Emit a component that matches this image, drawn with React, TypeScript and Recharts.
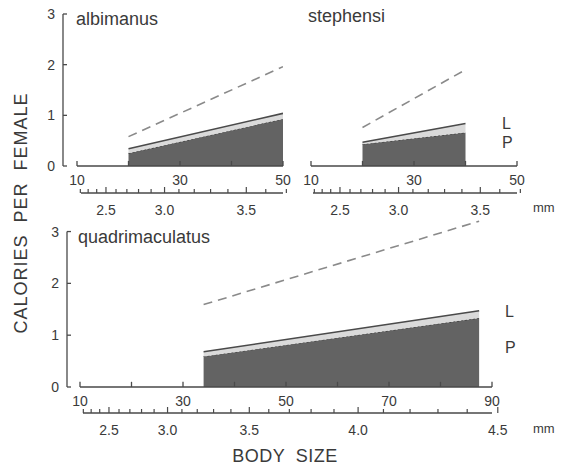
import { ComposedChart, Area, Line, XAxis, YAxis, ReferenceLine } from 'recharts';

// ends of the fitted lines, body size on the upper (weight) scale
const albimanusSize = [20, 50];
const albimanusProtein = [0.25, 0.93];
const albimanusTotal = [0.34, 1.04];
const albimanusDashed = [0.58, 1.96];

const stephensiSize = [20, 40];
const stephensiProtein = [0.43, 0.66];
const stephensiTotal = [0.47, 0.84];
const stephensiDashed = [0.76, 1.9];

const quadriSize = [34, 87.5];
const quadriProtein = [0.59, 1.33];
const quadriTotal = [0.68, 1.47];
const quadriDashed = [1.59, 3.2];

const yTicks = [0, 1, 2, 3];
const sizeTicksTop = [10, 20, 30, 40, 50];
const sizeTicksBottom = [10, 20, 30, 40, 50, 60, 70, 80, 90];
const sizeLabels = [10, 30, 50, 70, 90];
const mmTicksTop = [2.2, 2.3, 2.4, 2.5, 2.6, 2.7, 2.8, 2.9, 3.0, 3.1, 3.2, 3.3, 3.4, 3.5, 3.6, 3.7];
const mmTicksBottom = [2.2, 2.3, 2.4, 2.5, 2.6, 2.7, 2.8, 2.9, 3.0, 3.1, 3.2, 3.3, 3.4, 3.5, 3.6, 3.7, 3.8, 3.9, 4.0, 4.1, 4.2, 4.3, 4.4, 4.5];
const mmLabels = [2.5, 3.0, 3.5, 4.0, 4.5];

const AXIS = '#4a4a4a';
const TEXT = '#3a3a3a';
const FONT = "'Liberation Sans', Arial, sans-serif";

const makeRows = (size: number[], protein: number[], total: number[], dashed: number[]) =>
  size.map((w, i) => ({ w, p: protein[i], band: total[i] - protein[i], dash: dashed[i] }));

// wing length (mm) sits on a cube scale of the weight axis
const mmToSize = (list: number[]) => list.map((m) => m * m * m);

const SizeTick = (props: any) => {
  const { x, y, payload } = props;
  const v = payload.value;
  if (!sizeLabels.includes(v)) return <g />;
  return (
    <text x={x} y={y + 19} textAnchor="middle" fontSize={14} fill={TEXT} fontFamily={FONT}>
      {v}
    </text>
  );
};

const MmTick = (props: any) => {
  const { x, y, payload } = props;
  const mm = Math.round(Math.cbrt(payload.value) * 10) / 10;
  const major = mmLabels.some((l) => Math.abs(l - mm) < 0.01);
  return (
    <g>
      <line x1={x} y1={y} x2={x} y2={y - (major ? 6 : 4)} stroke={AXIS} strokeWidth={1.2} />
      {major && (
        <text x={x} y={y + 22} textAnchor="middle" fontSize={14} fill={TEXT} fontFamily={FONT}>
          {mm.toFixed(1)}
        </text>
      )}
    </g>
  );
};

const YTick = (props: any) => {
  const { x, y, payload } = props;
  return (
    <text x={x - 8} y={y + 5} textAnchor="end" fontSize={14} fill={TEXT} fontFamily={FONT}>
      {payload.value}
    </text>
  );
};

type PanelProps = {
  rows: { w: number; p: number; band: number; dash: number }[];
  left: number;
  top: number;
  width: number;
  height: number;
  marginLeft: number;
  marginRight: number;
  yWidth: number;
  padLeft: number;
  xDomain: number[];
  yDomain: number[];
  sizeTicks: number[];
  mmTicks: number[];
  xAxisHeight: number;
  skipX: number;
  skipMm: number;
  skipY: number;
};

const Panel = (props: PanelProps) => {
  const { rows, left, top, width, height, marginLeft, marginRight, yWidth, padLeft, xDomain, yDomain, sizeTicks, mmTicks, xAxisHeight, skipX, skipMm, skipY } = props;
  return (
    <div style={{ position: 'absolute', left, top }}>
      <ComposedChart width={width} height={height} data={rows} margin={{ top: 14, right: marginRight, left: marginLeft, bottom: 0 }}>
        <Area
          xAxisId="a"
          type="linear"
          dataKey="p"
          stackId="s"
          fill="#636363"
          fillOpacity={1}
          stroke="#2e2e2e"
          strokeWidth={1}
          strokeDasharray="2 2"
          isAnimationActive={false}
        />
        <Area
          xAxisId="a"
          type="linear"
          dataKey="band"
          stackId="s"
          fill="#dadada"
          fillOpacity={1}
          stroke="#4a4a4a"
          strokeWidth={1.6}
          isAnimationActive={false}
        />
        <Line
          xAxisId="a"
          type="linear"
          dataKey="dash"
          stroke="#8a8a8a"
          strokeWidth={1.6}
          strokeDasharray="9 6"
          dot={false}
          isAnimationActive={false}
        />
        {/* upward tick marks of the size axis */}
        {sizeTicks.map((t) => (
          <ReferenceLine
            key={t}
            xAxisId="a"
            segment={[{ x: t, y: 0 }, { x: t, y: 0.1 }]}
            stroke={AXIS}
            strokeWidth={1.3}
            ifOverflow="visible"
          />
        ))}
        <XAxis
          xAxisId="a"
          dataKey="w"
          type="number"
          domain={xDomain}
          allowDataOverflow
          ticks={sizeTicks}
          interval={0}
          padding={{ left: padLeft, right: 0 }}
          height={xAxisHeight}
          tickSize={0}
          tickMargin={0}
          tickLine={false}
          tick={SizeTick}
          axisLine={{ stroke: AXIS, strokeWidth: 1.3, strokeDasharray: `0 ${skipX} 3000` }}
        />
        <XAxis
          xAxisId="b"
          dataKey="w"
          type="number"
          domain={xDomain}
          allowDataOverflow
          ticks={mmToSize(mmTicks)}
          interval={0}
          padding={{ left: padLeft, right: 0 }}
          height={30}
          tickSize={0}
          tickMargin={0}
          tickLine={false}
          tick={MmTick}
          axisLine={{ stroke: AXIS, strokeWidth: 1.3, strokeDasharray: `0 ${skipMm} 3000` }}
        />
        <YAxis
          type="number"
          domain={yDomain}
          allowDataOverflow
          ticks={yTicks}
          interval={0}
          width={yWidth}
          hide={yWidth === 0}
          tickSize={-4}
          tickMargin={4}
          tickLine={{ stroke: AXIS, strokeWidth: 1.3 }}
          tick={YTick}
          axisLine={{ stroke: AXIS, strokeWidth: 1.3, strokeDasharray: `0 ${skipY} 3000` }}
        />
      </ComposedChart>
    </div>
  );
};

const txt = { fontFamily: FONT, fill: TEXT };

export default function App() {
  return (
    <div style={{ position: 'absolute', left: 0, top: 0, width: 566, height: 469, background: '#fff' }}>
      <Panel
        rows={makeRows(albimanusSize, albimanusProtein, albimanusTotal, albimanusDashed)}
        left={0}
        top={0}
        width={300}
        height={223}
        marginLeft={0}
        marginRight={17}
        yWidth={63}
        padLeft={14}
        xDomain={[10, 50]}
        yDomain={[0, 3]}
        sizeTicks={sizeTicksTop}
        mmTicks={mmTicksTop}
        xAxisHeight={27}
        skipX={14}
        skipMm={18}
        skipY={0}
      />
      <Panel
        rows={makeRows(stephensiSize, stephensiProtein, stephensiTotal, stephensiDashed)}
        left={300}
        top={0}
        width={235}
        height={223}
        marginLeft={11}
        marginRight={18}
        yWidth={0}
        padLeft={0}
        xDomain={[10, 50]}
        yDomain={[0, 3]}
        sizeTicks={sizeTicksTop}
        mmTicks={mmTicksTop}
        xAxisHeight={27}
        skipX={0}
        skipMm={2}
        skipY={0}
      />
      <Panel
        rows={makeRows(quadriSize, quadriProtein, quadriTotal, quadriDashed)}
        left={0}
        top={202}
        width={515}
        height={241}
        marginLeft={0}
        marginRight={23}
        yWidth={67}
        padLeft={13}
        xDomain={[10, 90]}
        yDomain={[0, 3.3]}
        sizeTicks={sizeTicksBottom}
        mmTicks={mmTicksBottom}
        xAxisHeight={26}
        skipX={13}
        skipMm={16}
        skipY={15.5}
      />
      <svg width={566} height={469} style={{ position: 'absolute', left: 0, top: 0, pointerEvents: 'none' }}>
        <text x={76} y={25} fontSize={18} {...txt}>albimanus</text>
        <text x={308} y={22} fontSize={18} {...txt}>stephensi</text>
        <text x={78} y={243} fontSize={18} {...txt}>quadrimaculatus</text>
        <text x={502} y={129} fontSize={16} {...txt}>L</text>
        <text x={502} y={148} fontSize={16} {...txt}>P</text>
        <text x={505} y={317} fontSize={16} {...txt}>L</text>
        <text x={505} y={353} fontSize={16} {...txt}>P</text>
        <text x={533} y={212} fontSize={13} {...txt}>mm</text>
        <text x={533} y={433} fontSize={13} {...txt}>mm</text>
        <text
          x={27}
          y={213}
          fontSize={18}
          letterSpacing={1}
          textAnchor="middle"
          transform="rotate(-90 27 213)"
          style={{ whiteSpace: 'pre' }}
          {...txt}
        >
          {'CALORIES  PER  FEMALE'}
        </text>
        <text x={285} y={462} fontSize={18} letterSpacing={0.5} textAnchor="middle" style={{ whiteSpace: 'pre' }} {...txt}>
          {'BODY  SIZE'}
        </text>
      </svg>
    </div>
  );
}
